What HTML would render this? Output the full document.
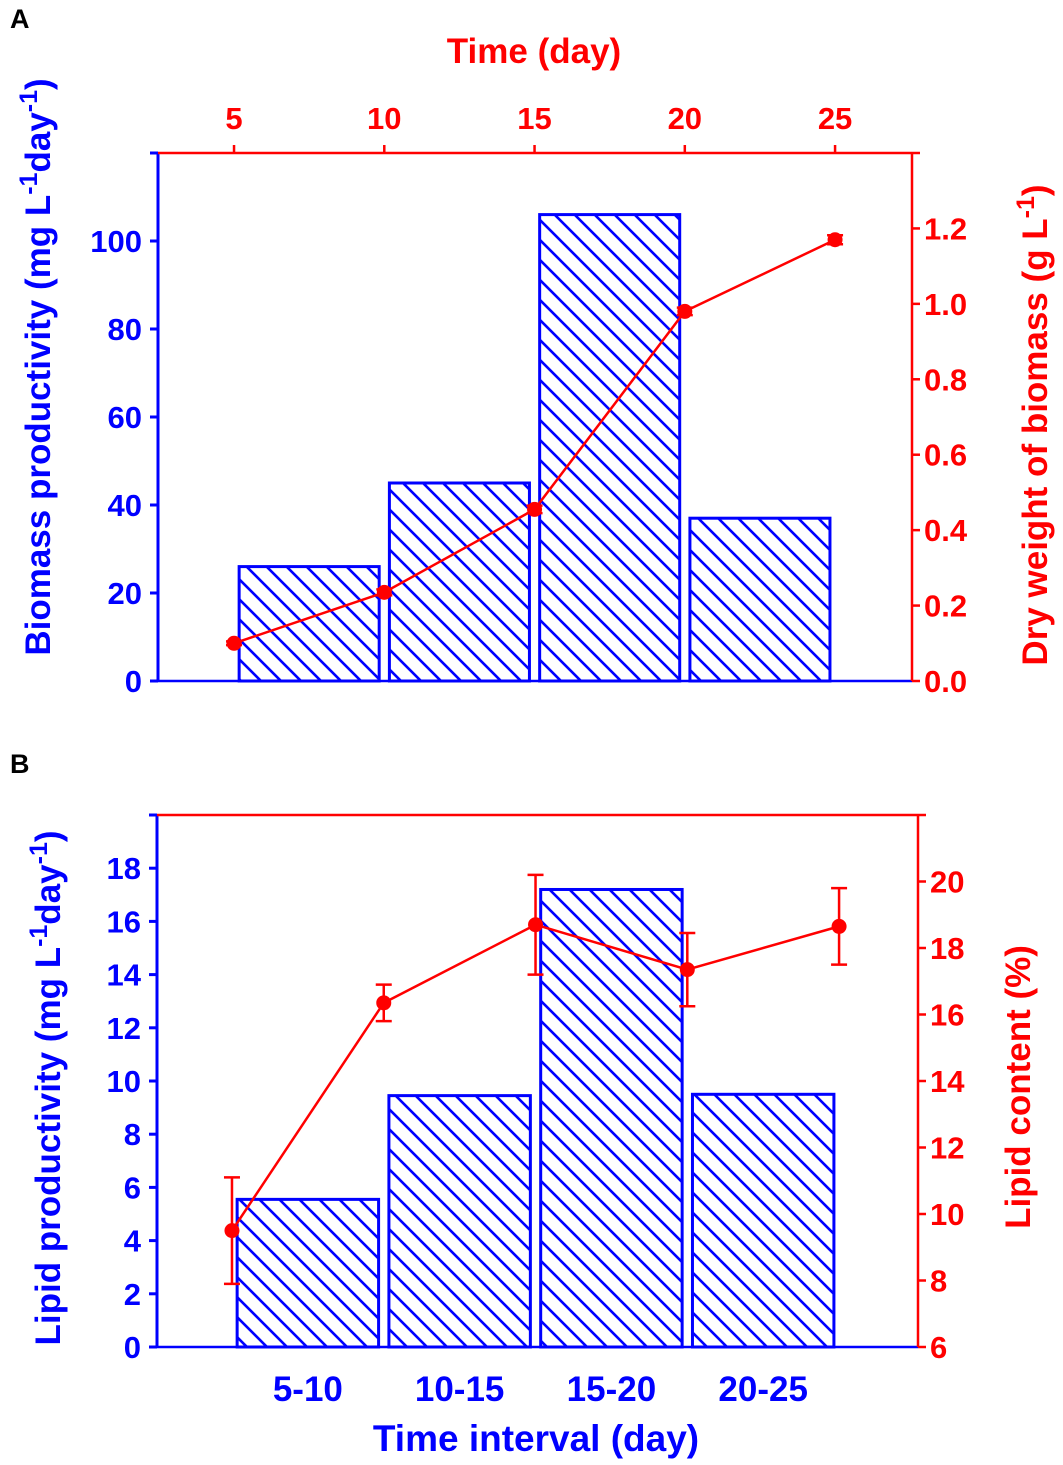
<!DOCTYPE html>
<html><head><meta charset="utf-8"><style>
html,body{margin:0;padding:0;background:#fff;}
svg{display:block;font-family:"Liberation Sans",Arial,sans-serif;font-weight:bold;}
</style></head><body>
<svg id="fig" width="1063" height="1465" viewBox="0 0 1063 1465" xmlns="http://www.w3.org/2000/svg">
<defs>
<pattern id="hatch" patternUnits="userSpaceOnUse" width="20" height="20">
<path d="M-5,-5 L25,25 M-5,15 L5,25 M15,-5 L25,5" stroke="#0000ff" stroke-width="2.6"/>
</pattern>
</defs>
<text x="10" y="28" font-size="27" fill="#000">A</text>
<text x="10" y="773" font-size="27" fill="#000">B</text>
<g id="gA"></g>
<g id="gB"></g>
</svg>
<script>
// Panel A data
const timeTicks = [5, 10, 15, 20, 25];
const intervalLabels = ['5-10', '10-15', '15-20', '20-25'];
const intervalCenters = [7.5, 12.5, 17.5, 22.5];
const biomassProd = [26, 45, 106, 37];
const dryWeight = [0.10, 0.235, 0.455, 0.98, 1.17];
const dryWeightErr = [0.005, 0.008, 0.01, 0.01, 0.012];
const leftTicksA = [0, 20, 40, 60, 80, 100];
const rightTicksA = [0.0, 0.2, 0.4, 0.6, 0.8, 1.0, 1.2];
// Panel B data
const lipidProd = [5.55, 9.45, 17.2, 9.5];
const lipidContent = [9.5, 16.35, 18.7, 17.35, 18.65];
const lipidErr = [1.6, 0.55, 1.5, 1.1, 1.15];
const leftTicksB = [0, 2, 4, 6, 8, 10, 12, 14, 16, 18];
const rightTicksB = [6, 8, 10, 12, 14, 16, 18, 20];

const NS = 'http://www.w3.org/2000/svg';
function mk(parent, tag, attrs, txt) {
  const e = document.createElementNS(NS, tag);
  for (const k in attrs) e.setAttribute(k, attrs[k]);
  if (txt !== undefined) e.textContent = txt;
  parent.appendChild(e);
  return e;
}
const BLUE = '#0000ff', RED = '#ff0000';
const barHalf = 2.33;
const TF = 31;

function panel(g, cfg) {
  const {L, R, T, B, xmin, xmax, ymaxL, ymin2, ymax2} = cfg;
  const xs = v => L + (v - xmin) / (xmax - xmin) * (R - L);
  const yL = v => B - v / ymaxL * (B - T);
  const yR = v => B - (v - ymin2) / (ymax2 - ymin2) * (B - T);
  cfg.bars.forEach((v, i) => {
    const c = intervalCenters[i];
    const r = mk(g, 'rect', {x: xs(c - barHalf), y: yL(v), width: xs(c + barHalf) - xs(c - barHalf), height: B - yL(v), fill: 'url(#hatch)', stroke: BLUE, 'stroke-width': 3});
    
    
  });
  mk(g, 'line', {x1: L, y1: B, x2: L, y2: T, stroke: BLUE, 'stroke-width': 3,  });
  mk(g, 'line', {x1: L - 8, y1: B, x2: R, y2: B, stroke: BLUE, 'stroke-width': 2.5,  });
  mk(g, 'line', {x1: L, y1: T, x2: R, y2: T, stroke: RED, 'stroke-width': 2.5,  });
  mk(g, 'line', {x1: R, y1: T, x2: R, y2: B, stroke: RED, 'stroke-width': 2.5,  });
  const lt = cfg.leftTicks;
  const lstep = lt[1] - lt[0];
  for (let v = 0; v <= ymaxL + 1e-9; v += lstep) mk(g, 'line', {x1: L - 8, x2: L, y1: yL(v), y2: yL(v), stroke: BLUE, 'stroke-width': 3});
  lt.forEach(v => {
    const t = mk(g, 'text', {x: L - 16, y: yL(v) + 11, 'font-size': TF, fill: BLUE, 'text-anchor': 'end'}, v);
    
    
  });
  const rt = cfg.rightTicks;
  const rstep = rt[1] - rt[0];
  for (let v = ymin2; v <= ymax2 + 1e-9; v += rstep) mk(g, 'line', {x1: R, x2: R + 8, y1: yR(v), y2: yR(v), stroke: RED, 'stroke-width': 2.5});
  rt.forEach(v => {
    const t = mk(g, 'text', {x: R + 12, y: yR(v) + 11, 'font-size': TF, fill: RED}, cfg.rfmt(v));
    
    
  });
  const pts = timeTicks.map((t, i) => [xs(t), yR(cfg.line[i])]);
  const pl = mk(g, 'polyline', {points: pts.map(p => p.join(',')).join(' '), fill: 'none', stroke: RED, 'stroke-width': 2.5});
  
  
  timeTicks.forEach((t, i) => {
    const x = xs(t), v = cfg.line[i], e = cfg.err[i];
    const y1 = yR(v + e), y2 = yR(v - e);
    mk(g, 'path', {d: `M${x},${y1}V${y2}M${x - 8},${y1}H${x + 8}M${x - 8},${y2}H${x + 8}`, stroke: RED, 'stroke-width': 2.5, fill: 'none'});
    const c = mk(g, 'circle', {cx: x, cy: yR(v), r: 7.5, fill: RED});
    
    
  });
  return {xs};
}

const gA = document.getElementById('gA');
const A = panel(gA, {L: 158, R: 912, T: 153, B: 681, xmin: 2.47, xmax: 27.56, ymaxL: 120, ymin2: 0, ymax2: 1.4,
  bars: biomassProd, line: dryWeight, err: dryWeightErr, leftTicks: leftTicksA, rightTicks: rightTicksA, rfmt: v => v.toFixed(1)});
timeTicks.forEach(t => {
  mk(gA, 'line', {x1: A.xs(t), x2: A.xs(t), y1: 153, y2: 145, stroke: RED, 'stroke-width': 2.5});
  const tx = mk(gA, 'text', {x: A.xs(t), y: 129, 'font-size': TF, fill: RED, 'text-anchor': 'middle'}, t);
  
  
});
mk(gA, 'text', {x: 534, y: 63, 'font-size': 35, fill: RED, 'text-anchor': 'middle',  }, 'Time (day)');
const ta = mk(gA, 'text', {transform: 'translate(50,367) rotate(-90)', 'font-size': 35, fill: BLUE, 'text-anchor': 'middle',  });
ta.innerHTML = 'Biomass productivity (mg L<tspan dy="-13" font-size="25">-1</tspan><tspan dy="13">day</tspan><tspan dy="-13" font-size="25">-1</tspan><tspan dy="13">)</tspan>';
const tr = mk(gA, 'text', {transform: 'translate(1047,425) rotate(-90)', 'font-size': 35, fill: RED, 'text-anchor': 'middle',  });
tr.innerHTML = 'Dry weight of biomass (g L<tspan dy="-13" font-size="25">-1</tspan><tspan dy="13">)</tspan>';

const gB = document.getElementById('gB');
const Bp = panel(gB, {L: 157, R: 918, T: 815, B: 1347, xmin: 2.53, xmax: 27.6, ymaxL: 20, ymin2: 6, ymax2: 22,
  bars: lipidProd, line: lipidContent, err: lipidErr, leftTicks: leftTicksB, rightTicks: rightTicksB, rfmt: v => v});
intervalLabels.forEach((l, i) => {
  const t = mk(gB, 'text', {x: Bp.xs(intervalCenters[i]), y: 1401, 'font-size': 35, fill: BLUE, 'text-anchor': 'middle'}, l);
  
  
});
mk(gB, 'text', {x: 536, y: 1451, 'font-size': 37, fill: BLUE, 'text-anchor': 'middle',  }, 'Time interval (day)');
const tb = mk(gB, 'text', {transform: 'translate(60,1088) rotate(-90)', 'font-size': 35, fill: BLUE, 'text-anchor': 'middle',  });
tb.innerHTML = 'Lipid productivity (mg L<tspan dy="-13" font-size="25">-1</tspan><tspan dy="13">day</tspan><tspan dy="-13" font-size="25">-1</tspan><tspan dy="13">)</tspan>';
mk(gB, 'text', {transform: 'translate(1030,1087) rotate(-90)', 'font-size': 35, fill: RED, 'text-anchor': 'middle',  }, 'Lipid content (%)');
</script>
</body></html>
